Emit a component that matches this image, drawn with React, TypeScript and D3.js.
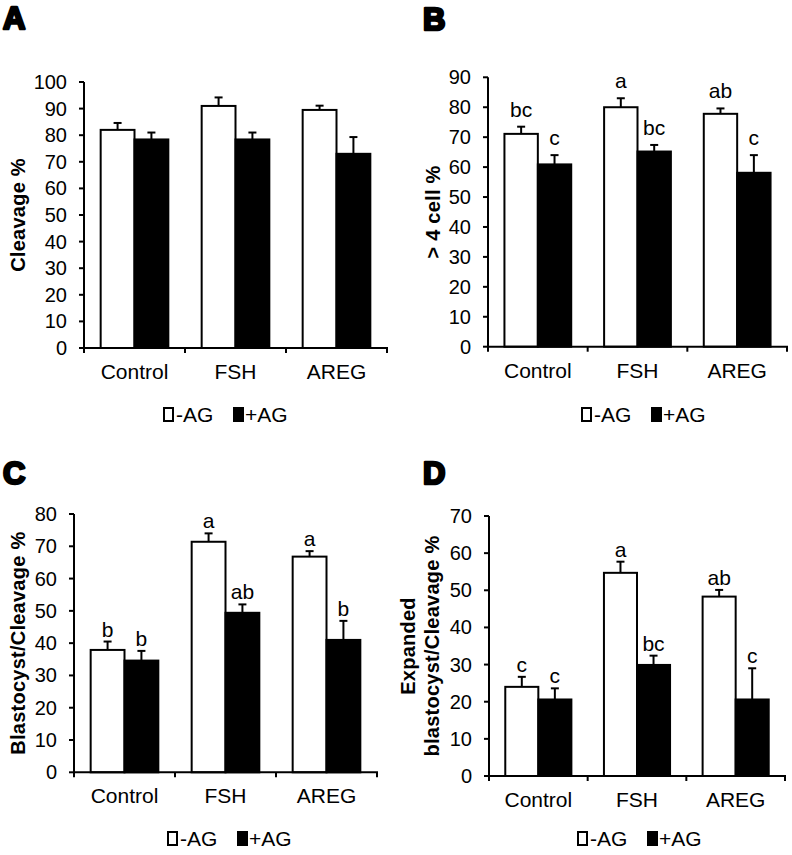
import React from "react";
import * as d3 from "d3";

// ---------- data ----------
const categories = ["Control", "FSH", "AREG"];
const seriesNames = ["-AG", "+AG"];

// A: Cleavage %
const cleavageMinusAG = [82.0, 91.0, 89.5];
const cleavageMinusAGErr = [2.6, 3.2, 1.6];
const cleavagePlusAG = [78.4, 78.4, 73.0];
const cleavagePlusAGErr = [2.6, 2.6, 6.3];

// B: > 4 cell %
const fourCellMinusAG = [71.1, 80.0, 77.8];
const fourCellMinusAGErr = [2.4, 3.0, 1.8];
const fourCellPlusAG = [60.9, 65.2, 58.1];
const fourCellPlusAGErr = [3.1, 2.2, 5.9];
const fourCellMinusLetters = ["bc", "a", "ab"];
const fourCellPlusLetters = ["c", "bc", "c"];

// C: Blastocyst/Cleavage %
const blastMinusAG = [37.9, 71.4, 66.8];
const blastMinusAGErr = [2.6, 2.6, 1.7];
const blastPlusAG = [34.6, 49.4, 41.0];
const blastPlusAGErr = [3.0, 2.6, 5.9];
const blastMinusLetters = ["b", "a", "a"];
const blastPlusLetters = ["b", "ab", "b"];

// D: Expanded blastocyst/Cleavage %
const expandedMinusAG = [24.0, 54.7, 48.3];
const expandedMinusAGErr = [2.7, 3.0, 1.8];
const expandedPlusAG = [20.6, 29.9, 20.6];
const expandedPlusAGErr = [3.0, 2.5, 8.4];
const expandedMinusLetters = ["c", "a", "ab"];
const expandedPlusLetters = ["c", "bc", "c"];

// ---------- layout ----------
const FONT = "'Liberation Sans', Arial, Helvetica, sans-serif";

type Panel = {
  letter: string;
  letterX: number;
  letterY: number;
  left: number;
  right: number;
  top: number;
  bottom: number;
  yMax: number;
  ylabel: string[];
  ylabelX: number[];
  minus: number[];
  minusErr: number[];
  plus: number[];
  plusErr: number[];
  minusLetters?: string[];
  plusLetters?: string[];
  letterGap: number;
  legendX: number;
  legendY: number;
};

const panels: Panel[] = [
  {
    letter: "A", letterX: 2, letterY: 29,
    left: 84, right: 387, top: 82, bottom: 348, yMax: 100,
    ylabel: ["Cleavage %"], ylabelX: [18],
    minus: cleavageMinusAG, minusErr: cleavageMinusAGErr,
    plus: cleavagePlusAG, plusErr: cleavagePlusAGErr,
    letterGap: 8, legendX: 163, legendY: 422,
  },
  {
    letter: "B", letterX: 422, letterY: 30,
    left: 488, right: 787, top: 77.3, bottom: 346.7, yMax: 90,
    ylabel: ["> 4 cell %"], ylabelX: [433],
    minus: fourCellMinusAG, minusErr: fourCellMinusAGErr,
    plus: fourCellPlusAG, plusErr: fourCellPlusAGErr,
    minusLetters: fourCellMinusLetters, plusLetters: fourCellPlusLetters,
    letterGap: 10, legendX: 581, legendY: 422,
  },
  {
    letter: "C", letterX: 2, letterY: 484,
    left: 74, right: 377, top: 514, bottom: 772.3, yMax: 80,
    ylabel: ["Blastocyst/Cleavage %"], ylabelX: [18],
    minus: blastMinusAG, minusErr: blastMinusAGErr,
    plus: blastPlusAG, plusErr: blastPlusAGErr,
    minusLetters: blastMinusLetters, plusLetters: blastPlusLetters,
    letterGap: 5, legendX: 167, legendY: 846,
  },
  {
    letter: "D", letterX: 422, letterY: 484,
    left: 489, right: 785, top: 516, bottom: 776, yMax: 70,
    ylabel: ["Expanded", "blastocyst/Cleavage %"], ylabelX: [408, 432],
    minus: expandedMinusAG, minusErr: expandedMinusAGErr,
    plus: expandedPlusAG, plusErr: expandedPlusAGErr,
    minusLetters: expandedMinusLetters, plusLetters: expandedPlusLetters,
    letterGap: 5, legendX: 577, legendY: 846,
  },
];

function ChartPanel({ p }: { p: Panel }) {
  const x = d3.scaleBand<string>().domain(categories).range([p.left, p.right]).padding(0);
  const inner = d3
    .scaleBand<string>()
    .domain(seriesNames)
    .range([x.bandwidth() * 0.165, x.bandwidth() * 0.835])
    .padding(0);
  const y = d3.scaleLinear().domain([0, p.yMax]).range([p.bottom, p.top]);
  const ticks = d3.range(0, p.yMax + 1, 10);
  const boundaries = [...categories.map((c) => x(c) as number), p.right];
  const yMid = (p.top + p.bottom) / 2;

  const series = [
    { name: seriesNames[0], vals: p.minus, errs: p.minusErr, letters: p.minusLetters, fill: "#fff" },
    { name: seriesNames[1], vals: p.plus, errs: p.plusErr, letters: p.plusLetters, fill: "#000" },
  ];

  return (
    <g>
      {/* panel letter */}
      <text
        x={p.letterX + 1}
        y={p.letterY}
        fontFamily={FONT}
        fontWeight="bold"
        fontSize={31}
        stroke="#000"
        strokeWidth={2.6}
        strokeLinejoin="round"
      >
        {p.letter}
      </text>

      {/* bars */}
      {series.map((s) =>
        categories.map((c, i) => {
          const bx = (x(c) as number) + (inner(s.name) as number);
          const bw = inner.bandwidth();
          const top = y(s.vals[i]);
          const errTop = y(s.vals[i] + s.errs[i]);
          const cx = bx + bw / 2;
          return (
            <g key={s.name + c}>
              <line x1={cx} x2={cx} y1={top} y2={errTop} stroke="#000" strokeWidth={2} />
              <line x1={cx - 4} x2={cx + 4} y1={errTop} y2={errTop} stroke="#000" strokeWidth={2} />
              <rect
                x={bx}
                y={top}
                width={bw}
                height={p.bottom - top}
                fill={s.fill}
                stroke="#000"
                strokeWidth={2}
              />
              {s.letters && (
                <text
                  x={cx}
                  y={errTop - p.letterGap}
                  textAnchor="middle"
                  fontFamily={FONT}
                  fontSize={21}
                >
                  {s.letters[i]}
                </text>
              )}
            </g>
          );
        })
      )}

      {/* y axis */}
      <line x1={p.left} x2={p.left} y1={p.top} y2={p.bottom} stroke="#000" strokeWidth={2} />
      {ticks.map((t) => (
        <g key={t}>
          <line x1={p.left - 5} x2={p.left} y1={y(t)} y2={y(t)} stroke="#000" strokeWidth={2} />
          <text
            x={p.left - 17}
            y={y(t)}
            dy="0.35em"
            textAnchor="end"
            fontFamily={FONT}
            fontSize={20}
          >
            {t}
          </text>
        </g>
      ))}

      {/* x axis */}
      <line x1={p.left - 1} x2={p.right + 1} y1={p.bottom} y2={p.bottom} stroke="#000" strokeWidth={2} />
      {boundaries.map((bx, i) => (
        <line key={i} x1={bx} x2={bx} y1={p.bottom} y2={p.bottom + 5} stroke="#000" strokeWidth={2} />
      ))}
      {categories.map((c) => (
        <text
          key={c}
          x={(x(c) as number) + x.bandwidth() / 2}
          y={p.bottom + 31}
          textAnchor="middle"
          fontFamily={FONT}
          fontSize={21}
        >
          {c}
        </text>
      ))}

      {/* y label */}
      {p.ylabel.map((lab, i) => (
        <text
          key={lab}
          transform={`translate(${p.ylabelX[i]},${yMid}) rotate(-90)`}
          dy="0.35em"
          textAnchor="middle"
          fontFamily={FONT}
          fontWeight="bold"
          fontSize={20}
          letterSpacing={0.25}
        >
          {lab}
        </text>
      ))}

      {/* legend */}
      <g transform={`translate(${p.legendX},${p.legendY})`}>
        <rect x={1} y={-14} width={9} height={13} fill="#fff" stroke="#000" strokeWidth={2} />
        <text x={13} y={0} fontFamily={FONT} fontSize={21}>
          {seriesNames[0]}
        </text>
        <rect x={70} y={-15} width={11} height={15} fill="#000" />
        <text x={82} y={0} fontFamily={FONT} fontSize={21}>
          {seriesNames[1]}
        </text>
      </g>
    </g>
  );
}

export default function App() {
  return (
    <svg
      width={792}
      height={855}
      viewBox="0 0 792 855"
      style={{ position: "absolute", left: 0, top: 0, background: "#fff" }}
    >
      <rect x={0} y={0} width={792} height={855} fill="#fff" />
      {panels.map((p) => (
        <ChartPanel key={p.letter} p={p} />
      ))}
    </svg>
  );
}
